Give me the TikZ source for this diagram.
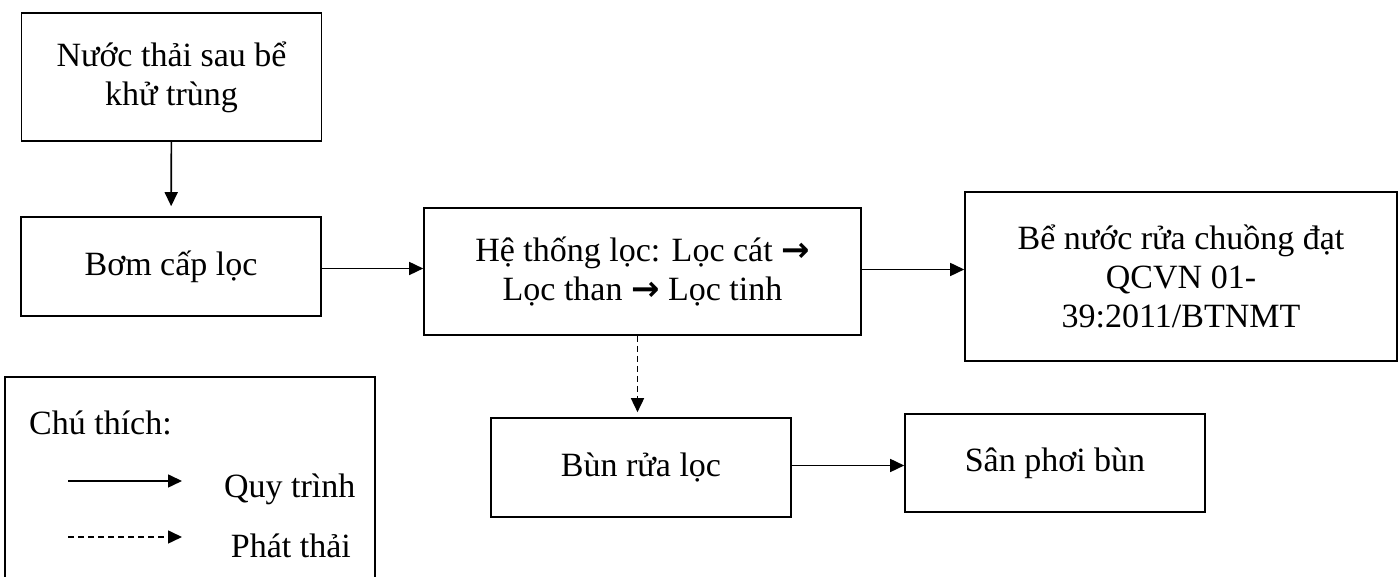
\documentclass[tikz,border=0pt]{standalone}
\usepackage{fontspec}
\setmainfont{Liberation Serif}
\newfontfamily\arrowfont{DejaVu Sans}
\usetikzlibrary{arrows.meta}
\usetikzlibrary{calc}
\usetikzlibrary{positioning}

\newcommand{\rarr}{{\arrowfont\bfseries →}}

\begin{document}
\begin{tikzpicture}[x=1pt,y=1pt,>={Triangle[length=14pt,width=13pt]},line width=1.6pt]
	\tikzstyle{every node}=[font=\fontsize{34}{39}\selectfont]
	\tikzstyle{box}=[draw, rectangle, align=center, inner sep=0pt, minimum width=300pt, minimum height=99pt]
	\tikzstyle{flow}=[->]
	\tikzstyle{waste}=[->, dash pattern=on 6pt off 4pt]
	\useasboundingbox (0,0) rectangle (1398,577);
	 \node[box, minimum height=128pt]          (nuoc) at (171.5,500)  {Nước thải sau bể\\khử trùng};
	 \node[box]                                (bom)  at (171,310.5)  {Bơm cấp lọc};
	 \node[box, minimum width=437pt, minimum height=127pt] (loc) at (642.5,305.5) {Hệ thống lọc: Lọc cát \rarr\\Lọc than \rarr\ Lọc tinh};
	 \node[box, minimum width=432pt, minimum height=169pt] (be) at (1181,300.5) {Bể nước rửa chuồng đạt\\QCVN 01-\\39:2011/BTNMT};
	 \node[box]                                (bun)  at (641,109.5)  {Bùn rửa lọc};
	 \node[box, minimum height=98pt]           (san)  at (1055,114)   {Sân phơi bùn};
	 % legend
	 \draw (5,0) -- (5,200) -- (375,200) -- (375,0);
	 \node[anchor=base west]  (chu)  at (25,142)  {Chú thích:};
	 \coordinate (qa) at (68,96);
	 \coordinate (qb) at (182,96);
	 \coordinate (pa) at (68,40);
	 \coordinate (pb) at (182,40);
	 \node[anchor=base west]  (quy)  at (220,79)  {Quy trình};
	 \node[anchor=base east]  (phat) at (355,19)  {Phát thải};
	 % connectors
	 \coordinate (ra) at ($(bom.east)+(0,-2)$);
	 \coordinate (rb) at ($(loc.east)+(0,2)$);
	 \coordinate (rc) at ($(bun.east)+(0,2)$);
	 \coordinate (ds) at ($(loc.south)+(-5,0)$);
	 \path
	 (nuoc) edge[flow, shorten >=10pt] (bom)
	 (ra)   edge[flow] (ra -| loc.west)
	 (rb)   edge[flow] (rb -| be.west)
	 (rc)   edge[flow] (rc -| san.west)
	 (ds)   edge[waste, shorten >=5pt] (ds |- bun.north)
	 (qa)   edge[flow] (qb)
	 (pa)   edge[waste] (pb);
\end{tikzpicture}
\end{document}
